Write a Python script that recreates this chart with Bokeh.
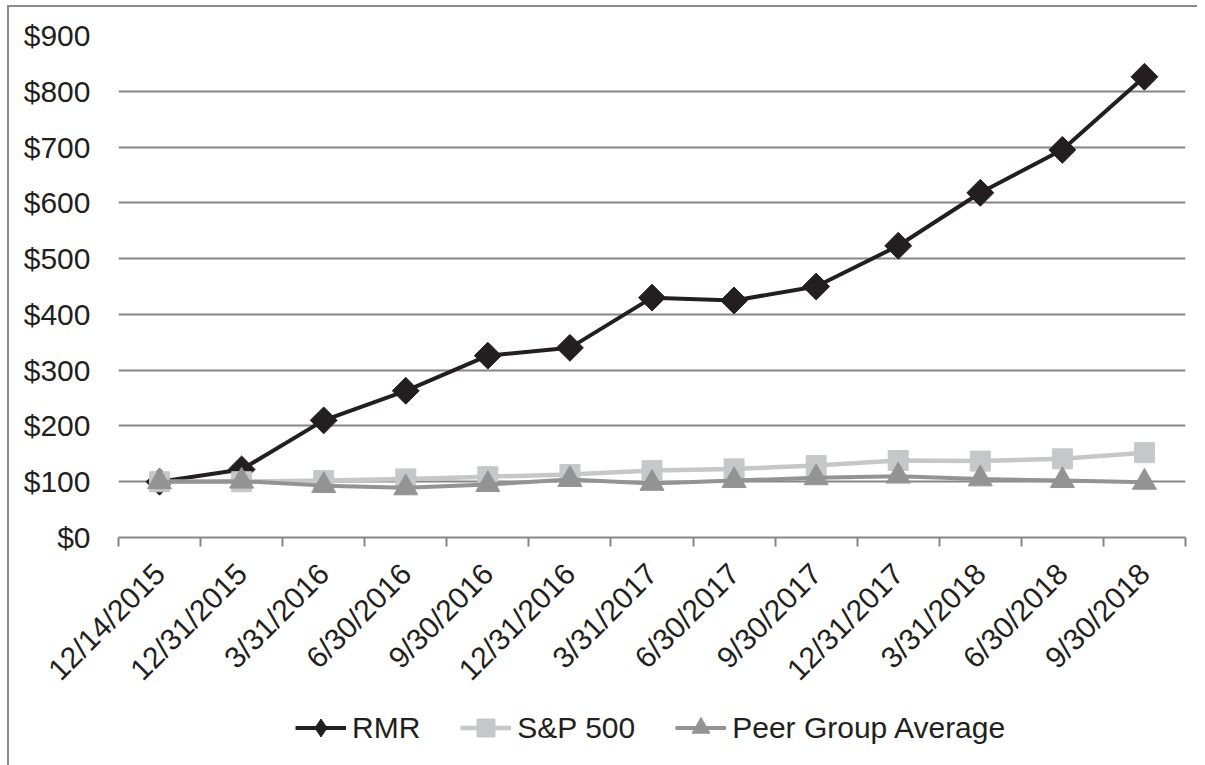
import math
from bokeh.plotting import figure
from bokeh.layouts import column
from bokeh.models import (ColumnDataSource, FixedTicker, NumeralTickFormatter,
                          Legend, LegendItem, Range1d)
from bokeh.embed import file_html
from bokeh.resources import INLINE

# ---- data ----
dates = ["12/14/2015", "12/31/2015", "3/31/2016", "6/30/2016", "9/30/2016",
         "12/31/2016", "3/31/2017", "6/30/2017", "9/30/2017", "12/31/2017",
         "3/31/2018", "6/30/2018", "9/30/2018"]
rmr = [100, 122, 210, 263, 326, 340, 430, 425, 450, 523, 618, 695, 826]
sp500 = [100, 100, 102, 105, 109, 113, 120, 123, 129, 138, 137, 141, 152]
peer = [100, 101, 93, 89, 95, 104, 97, 102, 107, 110, 105, 102, 99]
y_ticks = [0, 100, 200, 300, 400, 500, 600, 700, 800, 900]

FONT = "Liberation Sans"
TXT = "#231f20"
GRID = "#868686"
C_RMR = "#231f20"
C_SP = "#c6c7c8"
C_PEER = "#939393"

n = len(dates)
idx = list(range(n))
src = ColumnDataSource(dict(x=idx, rmr=rmr, sp=sp500, peer=peer))

# ---------------- main chart ----------------
p = figure(frame_width=1067, frame_height=502, output_backend="svg",
           toolbar_location=None,
           x_range=Range1d(-0.5, n - 0.5), y_range=Range1d(y_ticks[0], y_ticks[-1]),
           min_border_left=109, min_border_right=12, min_border_top=28,
           min_border_bottom=160)
p.outline_line_color = None
p.background_fill_color = "white"
p.border_fill_color = "white"

p.line("x", "rmr", source=src, line_color=C_RMR, line_width=4)
p.scatter("x", "rmr", source=src, marker="square", angle=math.pi / 4, size=19,
          fill_color=C_RMR, line_color=C_RMR)
p.line("x", "sp", source=src, line_color=C_SP, line_width=4.5)
p.scatter("x", "sp", source=src, marker="square", size=20,
          fill_color=C_SP, line_color=C_SP)
p.line("x", "peer", source=src, line_color=C_PEER, line_width=4)
p.scatter("x", "peer", source=src, marker="triangle", size=24,
          fill_color=C_PEER, line_color=C_PEER)

xa = p.xaxis[0]
xa.ticker = FixedTicker(ticks=idx, minor_ticks=[i - 0.5 for i in range(n + 1)])
xa.major_label_overrides = {i: d for i, d in enumerate(dates)}
xa.major_label_orientation = math.pi / 4
xa.major_tick_line_color = None
xa.major_tick_out = 0
xa.major_tick_in = 0
xa.minor_tick_line_color = GRID
xa.minor_tick_line_width = 2
xa.minor_tick_out = 9
xa.minor_tick_in = 0
xa.axis_line_color = GRID
xa.axis_line_width = 2
xa.major_label_text_font = FONT
xa.major_label_text_font_size = "30px"
xa.major_label_text_color = TXT
xa.major_label_standoff = 22

ya = p.yaxis[0]
ya.ticker = FixedTicker(ticks=y_ticks)
ya.formatter = NumeralTickFormatter(format="$0")
ya.axis_line_color = None
ya.major_tick_line_color = None
ya.minor_tick_line_color = None
ya.major_tick_out = 0
ya.major_label_standoff = 28
ya.major_label_text_font = FONT
ya.major_label_text_font_size = "30px"
ya.major_label_text_color = TXT

p.xgrid.visible = False
p.ygrid.grid_line_color = GRID
p.ygrid.grid_line_width = 2

# ---------------- legend strip ----------------
lg = figure(frame_width=1188, frame_height=66, output_backend="svg",
            toolbar_location=None, x_axis_type=None, y_axis_type=None,
            x_range=Range1d(-0.5, n - 0.5), y_range=Range1d(-2000, -1000),
            min_border_left=0, min_border_right=0, min_border_top=0,
            min_border_bottom=0)
lg.outline_line_color = None
lg.xgrid.visible = False
lg.ygrid.visible = False
lg.background_fill_color = "white"
lg.border_fill_color = "white"

r1 = lg.line("x", "rmr", source=src, line_color=C_RMR, line_width=4)
r2 = lg.scatter("x", "rmr", source=src, marker="diamond", size=18,
                fill_color=C_RMR, line_color=C_RMR)
s1 = lg.line("x", "sp", source=src, line_color=C_SP, line_width=4.5)
s2 = lg.scatter("x", "sp", source=src, marker="square", size=18,
                fill_color=C_SP, line_color=C_SP)
q1 = lg.line("x", "peer", source=src, line_color=C_PEER, line_width=4)
q2 = lg.scatter("x", "peer", source=src, marker="triangle", size=18,
                fill_color=C_PEER, line_color=C_PEER)

legend = Legend(items=[
    LegendItem(label="RMR", renderers=[r1, r2]),
    LegendItem(label="S&P 500", renderers=[s1, s2]),
    LegendItem(label="Peer Group Average", renderers=[q1, q2]),
], orientation="horizontal", location=(286, 17))
legend.label_text_font = FONT
legend.label_text_font_size = "30px"
legend.label_text_color = TXT
legend.glyph_width = 51
legend.glyph_height = 45
legend.label_standoff = 6
legend.spacing = 40
legend.padding = 0
legend.margin = 0
legend.border_line_color = None
legend.background_fill_alpha = 0
lg.add_layout(legend, "center")

layout = column(p, lg, spacing=0)
layout.styles = {"border-left": "2px solid #8a8a8a", "border-top": "2px solid #8a8a8a",
                 "margin-left": "7px", "margin-top": "5px"}

open("out.html", "w").write(file_html(layout, INLINE))
